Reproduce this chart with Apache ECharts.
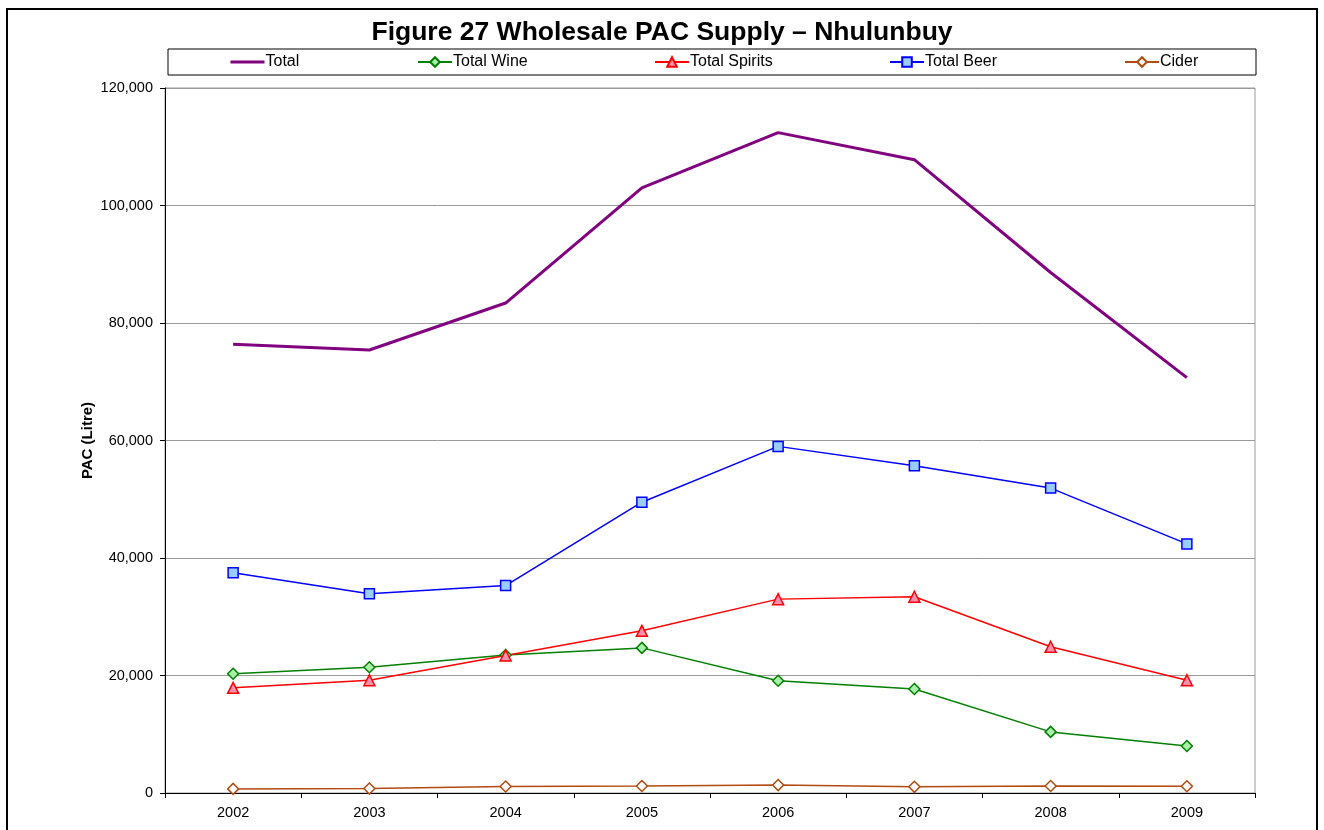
<!DOCTYPE html>
<html lang="en">
<head>
    <meta charset="UTF-8">
    <title>Wholesale PAC Supply</title>
    <style>
        html, body { margin: 0; padding: 0; background: #fff; }
        #chart { width: 1324px; height: 830px; }
    </style>
</head>
<body>
<div id="chart"></div>
<script src="https://cdn.jsdelivr.net/npm/echarts@6/dist/echarts.min.js"></script>
<script>
    var years = ['2002', '2003', '2004', '2005', '2006', '2007', '2008', '2009'];
    var total = [76400, 75400, 83400, 103000, 112400, 107800, 88600, 70700];
    var totalWine = [20300, 21400, 23500, 24700, 19100, 17700, 10400, 8000];
    var totalSpirits = [17900, 19200, 23400, 27600, 33000, 33400, 24900, 19200];
    var totalBeer = [37500, 33900, 35300, 49500, 59000, 55700, 51900, 42400];
    var cider = [700, 750, 1100, 1200, 1350, 1050, 1200, 1150];

    var font = 'Liberation Sans, Arial, sans-serif';
    var chart = echarts.init(document.getElementById('chart'));

    // one legend per entry so each sits in its own slot, like the original
    function legendAt(name, x, noMarker) {
        var lg = {
            data: [name], left: x, top: 54, itemWidth: 34, itemHeight: 12, itemGap: 0,
            textStyle: {fontFamily: font, fontSize: 16, color: '#000', padding: [0, 0, 0, -4]},
            padding: 0
        };
        if (noMarker) {
            lg.itemStyle = {opacity: 0};
            lg.lineStyle = {width: 3};
        }
        return lg;
    }

    function lineSeries(name, data, color, symbol, fill, size, width) {
        return {
            name: name, type: 'line', data: data,
            symbol: symbol, symbolSize: size,
            lineStyle: {color: color, width: width},
            itemStyle: {color: fill, borderColor: color, borderWidth: 1.5},
            emphasis: {disabled: true},
            animation: false
        };
    }

    var totalSeries = lineSeries('Total', total, '#800080', 'circle', '#800080', 0, 3);
    totalSeries.showSymbol = false;

    chart.setOption({
        animation: false,
        title: {
            text: 'Figure 27 Wholesale PAC Supply \u2013 Nhulunbuy',
            left: 'center', top: 14,
            textStyle: {fontFamily: font, fontSize: 26.5, fontWeight: 'bold', color: '#000'}
        },
        graphic: [
            {type: 'rect', shape: {x: 7, y: 9, width: 1310, height: 840},
                style: {fill: 'none', stroke: '#000', lineWidth: 2}, silent: true},
            {type: 'rect', shape: {x: 168, y: 49, width: 1088, height: 26},
                style: {fill: '#fff', stroke: '#000', lineWidth: 1}, silent: true, z: -1}
        ],
        legend: [
            legendAt('Total', 229, true),
            legendAt('Total Wine', 417),
            legendAt('Total Spirits', 654),
            legendAt('Total Beer', 889),
            legendAt('Cider', 1124)
        ],
        grid: {left: 165, right: 69, top: 88, bottom: 37, show: true, borderColor: '#999', borderWidth: 1},
        xAxis: {
            type: 'category', data: years, boundaryGap: true,
            axisLine: {lineStyle: {color: '#000', width: 1}},
            axisTick: {show: true, length: 5, lineStyle: {color: '#000'}},
            axisLabel: {fontFamily: font, fontSize: 14.5, color: '#000', margin: 12}
        },
        yAxis: {
            type: 'value', min: 0, max: 120000, interval: 20000,
            name: 'PAC (Litre)', nameLocation: 'middle', nameGap: 70, nameMoveOverlap: false,
            nameTextStyle: {fontFamily: font, fontSize: 15, fontWeight: 'bold', color: '#000'},
            axisLine: {show: true, lineStyle: {color: '#000', width: 1}},
            axisTick: {show: true, length: 5, lineStyle: {color: '#000'}},
            axisLabel: {
                fontFamily: font, fontSize: 14.5, color: '#000', margin: 12,
                formatter: function (v) { return v.toLocaleString('en-US'); }
            },
            splitLine: {lineStyle: {color: '#999', width: 1}}
        },
        series: [
            totalSeries,
            lineSeries('Total Wine', totalWine, '#008000', 'diamond', '#a8f0a8', 11, 1.5),
            lineSeries('Total Spirits', totalSpirits, '#ff0000', 'triangle', '#ff90b0', 11, 1.5),
            lineSeries('Total Beer', totalBeer, '#0000ff', 'rect', '#99ccff', 10, 1.5),
            lineSeries('Cider', cider, '#b34a0e', 'diamond', '#ffffff', 11, 1.5)
        ]
    });
</script>
</body>
</html>
